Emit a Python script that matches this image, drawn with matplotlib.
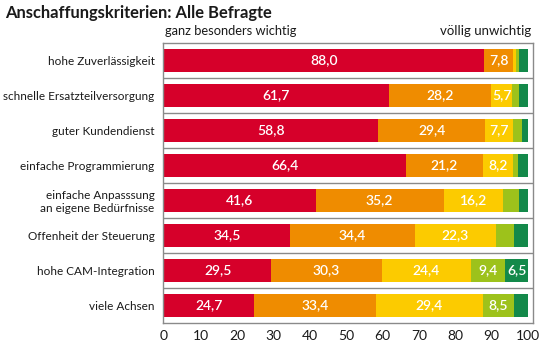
import matplotlib.pyplot as plt
import numpy as np

plt.rcParams['font.family'] = ['Lato', 'DejaVu Sans']

# Kategorien (von oben nach unten)
categories = [
    "hohe Zuverlässigkeit",
    "schnelle Ersatzteilversorgung",
    "guter Kundendienst",
    "einfache Programmierung",
    "einfache Anpasssung\nan eigene Bedürfnisse",
    "Offenheit der Steuerung",
    "hohe CAM-Integration",
    "viele Achsen",
]

# Anteile je Stufe (ganz besonders wichtig ... völlig unwichtig)
level1 = [88.0, 61.7, 58.8, 66.4, 41.6, 34.5, 29.5, 24.7]
level2 = [7.8, 28.2, 29.4, 21.2, 35.2, 34.4, 30.3, 33.4]
level3 = [1.0, 5.7, 7.7, 8.2, 16.2, 22.3, 24.4, 29.4]
level4 = [0.8, 2.0, 2.4, 1.5, 4.5, 5.0, 9.4, 8.5]
level5 = [2.4, 2.4, 1.7, 2.7, 2.5, 3.8, 6.5, 4.0]

series = [level1, level2, level3, level4, level5]
colors = ["#d6002a", "#ef8c00", "#fccb00", "#9dc21b", "#13894a"]
show_min = 5.5

fig = plt.figure(figsize=(5.4, 3.45), dpi=100)
ax = fig.add_axes([163 / 540, 1 - 323 / 345, 370 / 540, 280 / 345])

y = np.arange(len(categories))
left = np.zeros(len(categories))
for vals, col in zip(series, colors):
    vals = np.array(vals)
    ax.barh(y, vals, left=left, height=0.63, color=col, edgecolor='none')
    for yi, l, v in zip(y, left, vals):
        if v >= show_min:
            ax.text(l + v / 2, yi, f"{v:.1f}".replace('.', ','), ha='center', va='center',
                    color='white', fontsize=10, fontweight='semibold')
    left += vals

for k in range(len(categories) - 1):
    ax.axhline(k + 0.5, color='#8a8a8a', lw=1)

ax.set_xlim(-0.3, 101.35)
ax.set_ylim(len(categories) - 0.5, -0.5)
ax.set_yticks(y)
ax.set_yticklabels(categories, fontsize=8.5, color='#1a1a1a', multialignment='right')
ax.set_xticks(np.arange(0, 101, 10))
ax.tick_params(axis='both', length=0, colors='#1a1a1a')
ax.tick_params(axis='x', labelsize=10, pad=5)
ax.tick_params(axis='y', pad=6)
for s in ax.spines.values():
    s.set_color('#8a8a8a')
    s.set_linewidth(1)

fig.text(5 / 540, 1 - 13 / 345, "Anschaffungskriterien: Alle Befragte", fontsize=11.9,
         fontweight='bold', color='#1a1a1a', va='center', ha='left')
fig.text(165 / 540, 1 - 31 / 345, "ganz besonders wichtig", fontsize=9.3, color='#1a1a1a',
         va='center', ha='left')
fig.text(531 / 540, 1 - 31 / 345, "völlig unwichtig", fontsize=9.5, color='#1a1a1a',
         va='center', ha='right')

fig.savefig("out.png", dpi=100)
